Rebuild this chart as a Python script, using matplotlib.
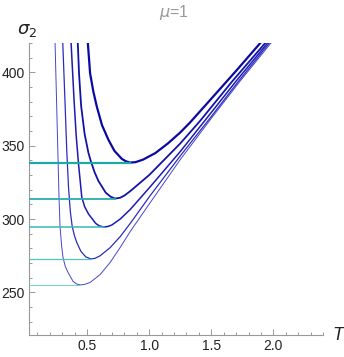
import matplotlib
matplotlib.use("Agg")
import matplotlib.pyplot as plt
from matplotlib.ticker import MultipleLocator

# curves: (T, sigma_2) pairs, lowest minimum first
curve1_T = [0.242, 0.264, 0.274, 0.282, 0.295, 0.306, 0.325, 0.347, 0.387, 0.415,
            0.444, 0.48, 0.524, 0.605, 0.685, 0.766, 0.847, 1.008, 1.25,
            1.492, 1.734, 1.981]
curve1_s = [420, 347.3, 314, 295, 281.5, 273.8, 267.5, 263.6, 257.5, 255.8,
            255.1, 255.5, 256.8, 262.2, 270.4, 280.6, 291.5, 311.2, 340.5,
            367.7, 394.2, 420]

curve2_T = [0.304, 0.322, 0.336, 0.35, 0.365, 0.38, 0.397, 0.417, 0.45, 0.49,
            0.532, 0.565, 0.605, 0.685, 0.766, 0.847, 1.008, 1.25, 1.478,
            1.72, 1.968]
curve2_s = [420, 380, 347, 322, 305, 295, 289, 284, 278, 274.2,
            272.8, 273.3, 275, 280.5, 288, 297, 316, 343, 367.5,
            394, 420]

curve3_T = [0.371, 0.395, 0.412, 0.43, 0.457, 0.48, 0.511, 0.57, 0.60, 0.637,
            0.67, 0.70, 0.766, 0.847, 1.008, 1.25, 1.452, 1.70, 1.954]
curve3_s = [420, 381, 357, 338.4, 315, 308.5, 303.5, 297, 295.3, 294.6,
            295, 296, 300, 306.5, 322, 346, 367.5, 394, 420]

curve4_T = [0.425, 0.435, 0.452, 0.48, 0.511, 0.53, 0.56, 0.591, 0.65, 0.69,
            0.726, 0.765, 0.80, 0.847, 1.0, 1.25, 1.411, 1.67, 1.935]
curve4_s = [420, 399, 377, 358, 345, 339.5, 332, 326, 318, 315.2,
            314, 314.5, 316, 319, 330, 351.5, 367, 394, 420]

curve5_T = [0.506, 0.524, 0.55, 0.578, 0.62, 0.672, 0.72, 0.78, 0.815, 0.847,
            0.89, 0.95, 1.05, 1.15, 1.25, 1.331, 1.5, 1.7, 1.895]
curve5_s = [420, 399.4, 387, 376.7, 364, 354, 346.5, 341, 339.3, 338.5,
            338.8, 340.5, 345, 351.5, 359, 366, 382, 401, 420]

# minima, marked by horizontal lines from the axis
min_T = [0.444, 0.532, 0.637, 0.726, 0.847]
min_s = [255.1, 272.8, 294.6, 314, 338.5]

curves = [(curve1_T, curve1_s), (curve2_T, curve2_s), (curve3_T, curve3_s),
          (curve4_T, curve4_s), (curve5_T, curve5_s)]
blues = ['#4646cc', '#2c2cbe', '#1c1cb2', '#1212a8', '#0a0aa0']
teals = ['#6cd2d2', '#52c4c4', '#3ab8b8', '#2aaeae', '#1fa8a8']
widths = [0.7, 0.9, 1.1, 1.3, 1.6]

x0, x1 = 0.032, 2.40
y0, y1 = 221, 420

fig = plt.figure(figsize=(3.44, 3.57), dpi=100)
ax = fig.add_axes([29 / 344, 22 / 357, 294 / 344, 292 / 357])

for (T, s), c, lw in zip(curves, blues, widths):
    ax.plot(T, s, color=c, lw=lw, zorder=2, solid_joinstyle='round')

for T, s, c, lw in zip(min_T, min_s, teals, widths):
    ax.plot([x0, T], [s, s], color=c, lw=lw, zorder=3)

ax.set_xlim(x0, x1)
ax.set_ylim(y0, y1)

for side in ['top', 'right']:
    ax.spines[side].set_visible(False)
for side in ['left', 'bottom']:
    ax.spines[side].set_color('#999999')
    ax.spines[side].set_linewidth(0.8)

ax.xaxis.set_major_locator(MultipleLocator(0.5))
ax.xaxis.set_minor_locator(MultipleLocator(0.1))
ax.yaxis.set_major_locator(MultipleLocator(50))
ax.yaxis.set_minor_locator(MultipleLocator(10))
ax.set_xticks([0.5, 1.0, 1.5, 2.0])
ax.set_xticklabels(['0.5', '1.0', '1.5', '2.0'])
ax.set_yticks([250, 300, 350, 400])
ax.tick_params(which='both', direction='in', color='#999999', width=0.7,
               labelsize=10, labelcolor='#222222', pad=3)
ax.tick_params(which='major', length=4)
ax.tick_params(which='minor', length=2.3)
for lab in ax.get_xticklabels() + ax.get_yticklabels():
    lab.set_family('Liberation Sans')

fig.text(174 / 344, 1 - 12 / 357, r'$\mu$=1', color='#999999', fontsize=11.5,
         ha='center', va='center', family='Liberation Sans')
fig.text(27 / 344, 1 - 30 / 357, r'$\sigma_2$', color='#222222', fontsize=13,
         ha='center', va='center')
fig.text(338 / 344, 1 - 335 / 357, 'T', color='#222222', fontsize=13,
         ha='center', va='center', style='italic', family='Liberation Sans')

fig.savefig('out.png', dpi=100)
